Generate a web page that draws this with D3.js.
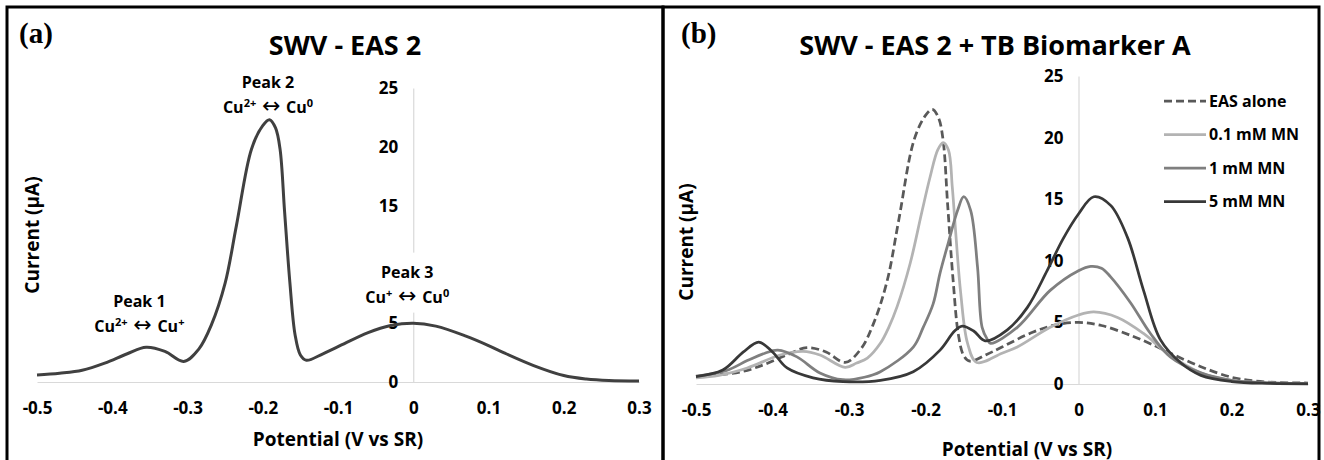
<!DOCTYPE html>
<html>
<head>
<meta charset="utf-8">
<script src="https://cdn.jsdelivr.net/npm/d3@7"></script>
<style>
  body { margin: 0; background: #fff; }
  text { font-family: "Open Sans", "DejaVu Sans", sans-serif; font-weight: 700; fill: #000; }
</style>
</head>
<body>
<script>
const WIDTH = 1324;
const HEIGHT = 460;

// [potential (V), current (uA)]
var EAS_ALONE = [[-0.5,0.6],[-0.47,0.75],[-0.44,1.0],[-0.41,1.6],[-0.38,2.4],[-0.355,2.95],[-0.33,2.6],[-0.305,1.75],
  [-0.285,2.8],[-0.268,4.9],[-0.25,8.4],[-0.235,13.3],[-0.215,19.8],[-0.2,21.8],[-0.191,22.3],[-0.183,21.6],
  [-0.177,19.8],[-0.171,14.5],[-0.164,8.5],[-0.157,4.0],[-0.15,2.3],[-0.142,1.85],[-0.12,2.4],[-0.1,3.0],
  [-0.06,4.2],[-0.03,4.8],[0,5.0],[0.03,4.75],[0.07,3.9],[0.1,3.1],[0.12,2.5],[0.16,1.4],[0.2,0.55],
  [0.23,0.25],[0.26,0.12],[0.3,0.08]];

var MN_01 = [[-0.5,0.5],[-0.47,0.7],[-0.433,1.3],[-0.39,2.35],[-0.36,2.65],[-0.338,2.35],[-0.305,1.35],[-0.29,1.7],
  [-0.276,2.1],[-0.259,3.3],[-0.248,4.6],[-0.237,6.3],[-0.22,9.8],[-0.205,13.9],[-0.194,16.8],[-0.184,19.0],
  [-0.177,19.6],[-0.17,19.0],[-0.165,16.0],[-0.161,12.7],[-0.154,7.4],[-0.145,3.3],[-0.133,1.75],[-0.1,2.5],
  [-0.08,3.0],[-0.037,4.6],[0,5.6],[0.02,5.85],[0.051,5.4],[0.085,4.1],[0.116,2.5],[0.16,0.9],[0.2,0.3],
  [0.25,0.1],[0.3,0.05]];

var MN_1 = [[-0.5,0.65],[-0.46,1.1],[-0.433,1.9],[-0.41,2.5],[-0.393,2.75],[-0.368,2.2],[-0.338,0.9],[-0.308,0.35],
  [-0.28,0.55],[-0.259,1.0],[-0.216,3.0],[-0.203,4.6],[-0.19,6.5],[-0.181,9.0],[-0.17,11.5],[-0.158,14.1],
  [-0.15,15.2],[-0.141,14.1],[-0.132,9.5],[-0.126,4.6],[-0.119,3.6],[-0.115,3.3],[-0.08,4.6],[-0.037,7.6],
  [0,9.2],[0.016,9.55],[0.03,9.4],[0.042,8.7],[0.068,6.6],[0.094,4.1],[0.12,2.2],[0.16,0.9],[0.2,0.3],
  [0.25,0.1],[0.3,0.05]];

var MN_5 = [[-0.5,0.6],[-0.465,1.13],[-0.438,2.6],[-0.418,3.4],[-0.4,2.6],[-0.381,1.3],[-0.347,0.5],[-0.308,0.2],
  [-0.259,0.3],[-0.216,1.0],[-0.181,2.75],[-0.162,4.3],[-0.152,4.7],[-0.137,4.3],[-0.122,3.5],[-0.093,4.4],
  [-0.067,6.2],[-0.041,9.2],[-0.02,11.8],[0,13.8],[0.02,15.2],[0.042,14.5],[0.064,11.9],[0.085,7.6],
  [0.107,3.6],[0.134,1.7],[0.16,0.7],[0.2,0.2],[0.25,0.05],[0.3,0.02]];

var SERIES_NAMES = ["EAS alone", "0.1 mM MN", "1 mM MN", "5 mM MN"];
var X_TICKS = [-0.5, -0.4, -0.3, -0.2, -0.1, 0, 0.1, 0.2, 0.3];
var X_TICK_LABELS = ["-0.5", "-0.4", "-0.3", "-0.2", "-0.1", "0", "0.1", "0.2", "0.3"];
var Y_TICKS = [0, 5, 10, 15, 20, 25];

// peak notes of panel (a): [potential, current at label, name, sup of first Cu, sup of second Cu]
var PEAKS = [
  [-0.364, 6.8, "Peak 1", "2+", "+"],
  [-0.193, 25.4, "Peak 2", "2+", "0"],
  [-0.008, 9.3, "Peak 3", "+", "0"]
];

var COLORS = ["#595959", "#b3b3b3", "#7f7f7f", "#383838"];

var svg = d3.select("body").append("svg")
  .attr("width", WIDTH)
  .attr("height", HEIGHT);

svg.append("rect").attr("width", WIDTH).attr("height", HEIGHT).attr("fill", "#fff");

// panel frames
svg.append("rect").attr("x", 7).attr("y", 7).attr("width", 656).attr("height", 470)
  .attr("fill", "none").attr("stroke", "#000").attr("stroke-width", 3);
svg.append("rect").attr("x", 663).attr("y", 7).attr("width", 656).attr("height", 470)
  .attr("fill", "none").attr("stroke", "#000").attr("stroke-width", 3);

function drawAxes(g, x, y) {
  var xa = g.append("g")
    .attr("transform", "translate(0," + y(0) + ")")
    .call(d3.axisBottom(x).tickValues(X_TICKS).tickFormat((d, i) => X_TICK_LABELS[i]).tickSize(0).tickPadding(20));
  var ya = g.append("g")
    .attr("transform", "translate(" + x(0) + ",0)")
    .call(d3.axisLeft(y).tickValues(Y_TICKS).tickSize(0).tickPadding(15));
  [xa, ya].forEach(a => {
    a.select(".domain").attr("stroke", "#d9d9d9").attr("stroke-width", 1.2);
    a.selectAll("text").attr("font-size", 17).attr("font-family", null).attr("fill", "#000");
  });
}

var line = (x, y) => d3.line().x(d => x(d[0])).y(d => y(d[1])).curve(d3.curveCatmullRom.alpha(0.5));

//---------------- panel (a)
var xA = d3.scaleLinear().domain([-0.5, 0.3]).range([37, 639]);
var yA = d3.scaleLinear().domain([0, 25]).range([382, 88]);
var gA = svg.append("g");
drawAxes(gA, xA, yA);

// notes sit on white boxes that hide the axis behind them
PEAKS.forEach(p => {
  var px = xA(p[0]), py = yA(p[1]);
  var note = gA.append("g");
  var box = note.append("rect").attr("fill", "#fff");
  note.append("text").text(p[2]).attr("x", px).attr("y", py + 5)
    .attr("text-anchor", "middle").attr("font-size", 16);
  var t = note.append("text").attr("x", px).attr("y", py + 30)
    .attr("text-anchor", "middle").attr("font-size", 16);
  t.append("tspan").text("Cu");
  t.append("tspan").text(p[3]).attr("font-size", 11).attr("dy", -6);
  t.append("tspan").text(" \u2194 ").attr("dy", 6).attr("font-size", 22).attr("font-weight", 400);
  t.append("tspan").text("Cu");
  t.append("tspan").text(p[4]).attr("font-size", 11).attr("dy", -6);
  var bb = note.node().getBBox();
  box.attr("x", bb.x - 3).attr("y", bb.y - 8).attr("width", bb.width + 6).attr("height", bb.height + 12);
});

gA.append("path")
  .datum(EAS_ALONE)
  .attr("d", line(xA, yA))
  .attr("fill", "none")
  .attr("stroke", "#404040")
  .attr("stroke-width", 3);

gA.append("text").text("(a)").attr("x", 19).attr("y", 43)
  .style("font-family", "'Liberation Serif', serif").attr("font-size", 29);
gA.append("text").text("SWV - EAS 2").attr("x", 345).attr("y", 55)
  .attr("text-anchor", "middle").attr("font-size", 27);
gA.append("text").text("Potential (V vs SR)").attr("x", 338).attr("y", 446)
  .attr("text-anchor", "middle").attr("font-size", 19);
gA.append("text").text("Current (\u00b5A)")
  .attr("transform", "translate(39,235) rotate(-90)")
  .attr("text-anchor", "middle").attr("font-size", 19);

//---------------- panel (b)
var xB = d3.scaleLinear().domain([-0.5, 0.3]).range([696, 1308]);
var yB = d3.scaleLinear().domain([0, 25]).range([384, 76]);
var gB = svg.append("g");
drawAxes(gB, xB, yB);

var SERIES = [EAS_ALONE, MN_01, MN_1, MN_5];
gB.selectAll(".curve")
  .data(SERIES)
  .enter()
  .append("path")
  .attr("class", "curve")
  .attr("d", line(xB, yB))
  .attr("fill", "none")
  .attr("stroke", (d, i) => COLORS[i])
  .attr("stroke-width", 2.75)
  .attr("stroke-dasharray", (d, i) => i === 0 ? "8,4" : null);

gB.append("text").text("(b)").attr("x", 681).attr("y", 43)
  .style("font-family", "'Liberation Serif', serif").attr("font-size", 29);
gB.append("text").text("SWV - EAS 2 + TB Biomarker A").attr("x", 995).attr("y", 55)
  .attr("text-anchor", "middle").attr("font-size", 27);
gB.append("text").text("Potential (V vs SR)").attr("x", 1027).attr("y", 456)
  .attr("text-anchor", "middle").attr("font-size", 19);
gB.append("text").text("Current (\u00b5A)")
  .attr("transform", "translate(693,242) rotate(-90)")
  .attr("text-anchor", "middle").attr("font-size", 19);

// legend
var legend = gB.selectAll(".legend")
  .data(SERIES_NAMES)
  .enter()
  .append("g")
  .attr("class", "legend")
  .attr("transform", (d, i) => "translate(1164," + (101 + i * 33.5) + ")");
legend.append("line")
  .attr("x1", 0).attr("x2", 42)
  .attr("stroke", (d, i) => COLORS[i])
  .attr("stroke-width", 2.75)
  .attr("stroke-dasharray", (d, i) => i === 0 ? "8,4" : null);
legend.append("text")
  .text(d => d)
  .attr("x", 45)
  .attr("dy", "0.35em")
  .attr("font-size", 16);
</script>
</body>
</html>
